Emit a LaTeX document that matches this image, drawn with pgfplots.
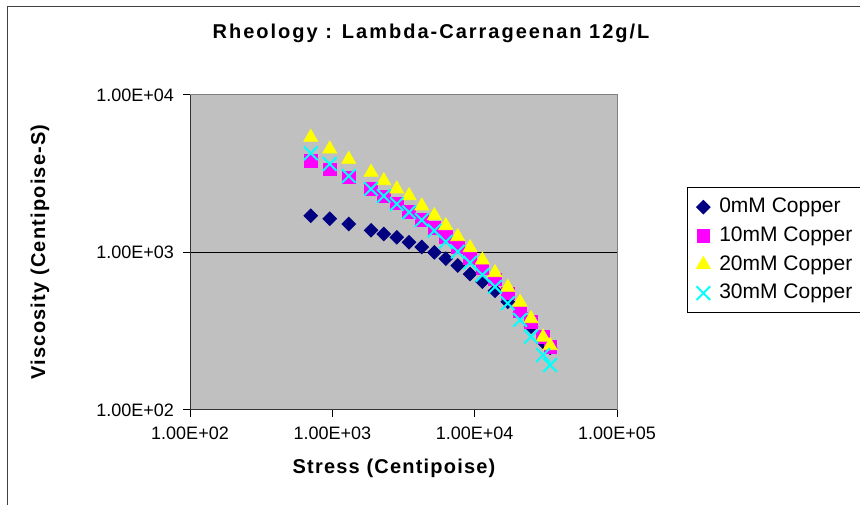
\documentclass[border=0pt]{standalone}
\usepackage{fontspec}
\setmainfont{Liberation Sans}
\usepackage{pgfplots}
\pgfplotsset{compat=1.18}
\definecolor{plotbg}{RGB}{192,192,192}
\definecolor{frame}{RGB}{128,128,128}
\definecolor{navy}{RGB}{0,0,128}
\definecolor{xlmagenta}{RGB}{255,0,255}
\definecolor{xlyellow}{RGB}{255,255,0}
\definecolor{xlcyan}{RGB}{0,255,255}

% viscosity vs stress
\pgfplotstableread{
x y
705 1713
959 1640
1304 1517
1871 1383
2298 1310
2837 1248
3459 1161
4249 1083
5210 1003
6266 914
7607 827
9286 730
11330 653
13900 572
17090 487
20840 415
24900 338
30250 271
33880 248
}\cuzero
\pgfplotstableread{
x y
705 3810
959 3375
1304 3003
1871 2531
2298 2261
2837 2052
3459 1815
4249 1608
5210 1436
6266 1259
7607 1088
9286 918
11330 794
13900 676
17090 551
20840 421
24900 362
30250 292
33880 252
}\cuten
\pgfplotstableread{
x y
705 5388
959 4540
1304 3906
1871 3230
2298 2856
2837 2531
3459 2294
4249 1974
5210 1713
6266 1480
7607 1260
9286 1072
11330 896
13900 744
17090 601
20840 483
24900 380
30250 290
33880 256
}\cutwenty
\pgfplotstableread{
x y
705 4263
959 3646
1304 3060
1871 2531
2298 2284
2837 2031
3459 1799
4249 1608
5210 1375
6266 1171
7607 1012
9286 861
11330 720
13900 607
17090 476
20840 373
24900 292
30250 223
33880 193
}\cuthirty

\newcommand{\lblfont}{\bfseries\fontsize{10}{12}\selectfont\addfontfeature{LetterSpace=6}}

\begin{document}
\begin{tikzpicture}
\useasboundingbox (0,0) rectangle (430pt,252pt);
\clip (0,0) rectangle (430pt,252pt);
\draw[black!75,line width=0.5pt] (3.5pt,-10pt) -- (3.5pt,248.5pt) -- (440pt,248.5pt);
\begin{axis}[
  at={(95pt,47pt)}, anchor=south west,
  scale only axis, width=213.5pt, height=157.5pt,
  xmode=log, ymode=log,
  xmin=100, xmax=100000, ymin=100, ymax=10000,
  axis background/.style={fill=plotbg},
  axis line style={draw=frame,line width=0.5pt},
  xtick={100,1000,10000,100000},
  xticklabels={1.00E+02,1.00E+03,1.00E+04,1.00E+05},
  ytick={100,1000,10000},
  yticklabels={1.00E+02,1.00E+03,1.00E+04},
  xminorticks=false, yminorticks=false,
  xtick pos=bottom, ytick pos=left,
  tick align=outside, major tick length=3.5pt,
  tick style={black,line width=0.5pt},
  tick label style={font=\fontsize{9}{10}\selectfont},
  yticklabel style={xshift=-1pt},
  xticklabel style={yshift=-1.5pt},
  clip=false,
  legend style={at={(axis description cs:1.164,0.705)}, anchor=north west,
    name=leg, draw=none, fill=none,
    font=\fontsize{10.5}{12}\selectfont, row sep=1.5pt, column sep=2.5pt,
    inner xsep=4.5pt, inner ysep=3pt},
  legend cell align=left,
  legend image code/.code={\draw[#1] plot coordinates {(0pt,0pt)};},
]
\draw[black,line width=0.5pt] (axis cs:100,1000) -- (axis cs:100000,1000);
\addplot[only marks, mark=square*, mark size=2.4pt, color=navy,
  mark options={rotate=45}] table {\cuzero};
\addlegendentry{0mM Copper}
\addplot[only marks, mark=square*, mark size=3.1pt, color=xlmagenta] table {\cuten};
\addlegendentry{10mM Copper}
\addplot[only marks, mark=triangle*, mark size=4pt, color=xlyellow] table {\cutwenty};
\addlegendentry{20mM Copper}
\addplot[only marks, mark=x, mark size=4.8pt, color=xlcyan, line width=1pt] table {\cuthirty};
\addlegendentry{30mM Copper}
\draw[black!80,line width=0.5pt] (rel axis cs:0,1) -- (rel axis cs:0,0) -- (rel axis cs:1,0);
\end{axis}
% legend frame runs off the right edge, as in the original
\draw[black,line width=0.5pt] (leg.north west) ++(100pt,0) -- (leg.north west) -- (leg.south west) -- ++(100pt,0);
\node[font=\bfseries\fontsize{10}{12}\selectfont\addfontfeature{LetterSpace=10}] at (215.5pt,235.5pt) {Rheology : Lambda-Carrageenan 12g/L};
\node[font=\lblfont] at (197pt,18pt) {Stress (Centipoise)};
\node[font=\lblfont,rotate=90] at (20pt,126pt) {Viscosity (Centipoise-S)};
\end{tikzpicture}
\end{document}
